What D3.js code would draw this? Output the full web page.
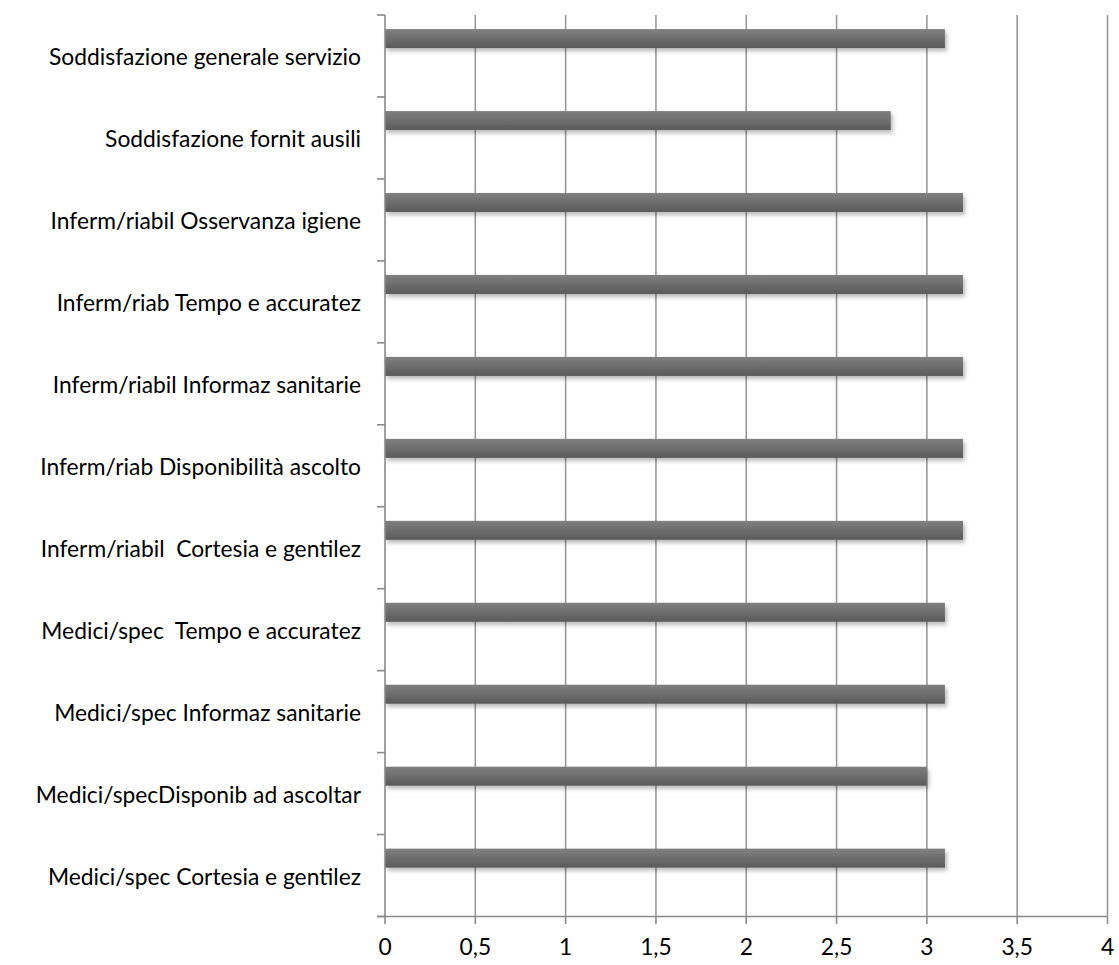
<!DOCTYPE html>
<html>
<head>
<meta charset="utf-8">
<script src="https://cdn.jsdelivr.net/npm/d3@7"></script>
<style>
  html, body { margin: 0; padding: 0; background: #fff; }
  svg { display: block; }
  text { font-family: Lato, "Open Sans", sans-serif; fill: #000; white-space: pre; }
</style>
</head>
<body>
<svg id="chart" width="1119" height="965"></svg>
<script>
// Survey items, listed top to bottom
const categories = [
  "Soddisfazione generale servizio",
  "Soddisfazione fornit ausili",
  "Inferm/riabil Osservanza igiene",
  "Inferm/riab Tempo e accuratez",
  "Inferm/riabil Informaz sanitarie",
  "Inferm/riab Disponibilità ascolto",
  "Inferm/riabil  Cortesia e gentilez",
  "Medici/spec  Tempo e accuratez",
  "Medici/spec Informaz sanitarie",
  "Medici/specDisponib ad ascoltar",
  "Medici/spec Cortesia e gentilez"
];
// Mean score per item
const scores = [3.1, 2.8, 3.2, 3.2, 3.2, 3.2, 3.2, 3.1, 3.1, 3.0, 3.1];
// Value-axis ticks
const xTicks = [0, 0.5, 1, 1.5, 2, 2.5, 3, 3.5, 4];

const svg = d3.select("#chart");
const plotTop = 15, plotBottom = 916.5;

const x = d3.scaleLinear().domain([0, 4]).range([385, 1107.5]);
const y = d3.scaleBand().domain(categories).range([plotTop, plotBottom]).paddingInner(0).paddingOuter(0);

const defs = svg.append("defs");
const grad = defs.append("linearGradient").attr("id", "barGrad")
  .attr("x1", 0).attr("y1", 0).attr("x2", 0).attr("y2", 1);
grad.append("stop").attr("offset", "0%").attr("stop-color", "#808080");
grad.append("stop").attr("offset", "100%").attr("stop-color", "#5a5a5a");

const shadow = defs.append("filter").attr("id", "barShadow")
  .attr("x", "-5%").attr("y", "-50%").attr("width", "115%").attr("height", "220%");
shadow.append("feDropShadow").attr("dx", 2).attr("dy", 3).attr("stdDeviation", 2.2)
  .attr("flood-color", "#000").attr("flood-opacity", 0.28);

// Vertical gridlines
const fmt = d => String(d).replace(".", ",");
svg.append("g").selectAll("line").data(xTicks.slice(1)).join("line")
  .attr("x1", d => x(d)).attr("x2", d => x(d))
  .attr("y1", plotTop).attr("y2", plotBottom)
  .attr("stroke", "#999").attr("stroke-width", 1.6);

// Bars
const bandH = y.bandwidth();
svg.append("g").selectAll("rect").data(categories).join("rect")
  .attr("x", x(0))
  .attr("y", d => y(d) + bandH * 0.172)
  .attr("width", (d, i) => x(scores[i]) - x(0))
  .attr("height", bandH * 0.232)
  .attr("fill", "url(#barGrad)")
  .attr("filter", "url(#barShadow)");

// Category axis
const yAxis = svg.append("g").attr("transform", `translate(${x(0)},0)`);
yAxis.append("line").attr("x1", 0).attr("x2", 0).attr("y1", plotTop).attr("y2", plotBottom)
  .attr("stroke", "#8a8a8a").attr("stroke-width", 1.6);
const bounds = categories.map(c => y(c)).concat([y(categories[categories.length - 1]) + bandH]);
yAxis.selectAll("line.tick").data(bounds).join("line").attr("class", "tick")
  .attr("x1", -8).attr("x2", 0).attr("y1", d => d).attr("y2", d => d)
  .attr("stroke", "#8a8a8a").attr("stroke-width", 1.6);
yAxis.selectAll("text").data(categories).join("text")
  .attr("x", -24).attr("y", d => y(d) + bandH / 2)
  .attr("text-anchor", "end").attr("dominant-baseline", "central")
  .attr("font-size", 22.8).text(d => d);

// Value axis
const xAxis = svg.append("g");
xAxis.append("line").attr("x1", x(0) - 8).attr("x2", x(4)).attr("y1", plotBottom).attr("y2", plotBottom)
  .attr("stroke", "#8a8a8a").attr("stroke-width", 1.6);
xAxis.selectAll("line.tick").data(xTicks).join("line").attr("class", "tick")
  .attr("x1", d => x(d)).attr("x2", d => x(d)).attr("y1", plotBottom).attr("y2", 924)
  .attr("stroke", "#8a8a8a").attr("stroke-width", 1.6);
xAxis.selectAll("text").data(xTicks).join("text")
  .attr("x", d => x(d)).attr("y", 946)
  .attr("text-anchor", "middle").attr("dominant-baseline", "central")
  .attr("font-size", 22.8).text(fmt);
</script>
</body>
</html>
